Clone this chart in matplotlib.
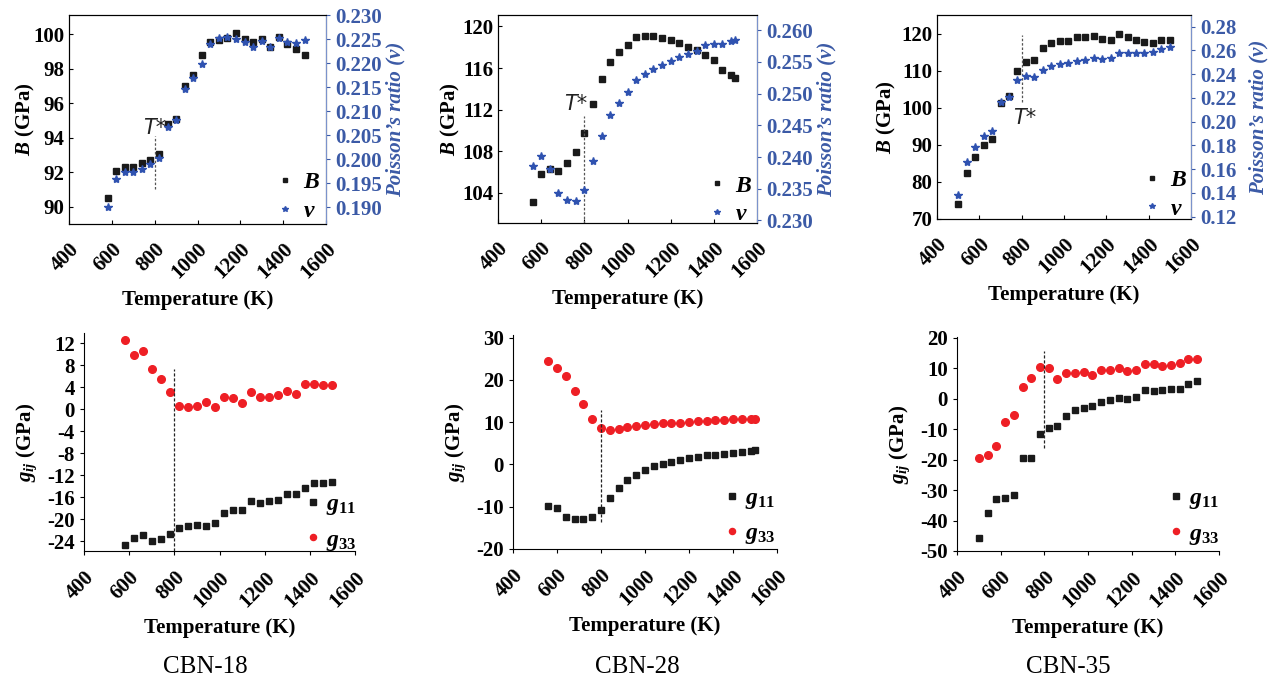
import numpy as np
import matplotlib
matplotlib.use('Agg')
import matplotlib.pyplot as plt

plt.rcParams['font.family'] = ['Liberation Serif', 'DejaVu Serif']
plt.rcParams['font.weight'] = 'bold'
plt.rcParams['mathtext.fontset'] = 'custom'
plt.rcParams['mathtext.it'] = 'Liberation Serif:italic:bold'
plt.rcParams['mathtext.rm'] = 'Liberation Serif'
plt.rcParams['mathtext.bf'] = 'Liberation Serif:bold'

# temperatures (K)
T_18 = [580, 620, 660, 700, 740, 780, 820, 860, 900, 940, 980, 1020,
        1060, 1100, 1140, 1180, 1220, 1260, 1300, 1340, 1380, 1420, 1460, 1500]
T_28 = [560, 600, 640, 680, 720, 760, 800, 840, 880, 920, 960, 1000, 1040,
        1080, 1120, 1160, 1200, 1240, 1280, 1320, 1360, 1400, 1440, 1480, 1500]
T_35 = [500, 540, 580, 620, 660, 700, 740, 780, 820, 860, 900, 940, 980,
        1020, 1060, 1100, 1140, 1180, 1220, 1260, 1300, 1340, 1380, 1420, 1460, 1500]

# bulk modulus B (GPa)
B_18 = [90.5, 92.05, 92.3, 92.3, 92.55, 92.7, 93.05, 94.8, 95.1, 97.0, 97.6, 98.8,
        99.55, 99.65, 99.75, 100.05, 99.7, 99.55, 99.7, 99.25, 99.8, 99.4, 99.15, 98.8]
B_28 = [103.15, 105.85, 106.25, 106.1, 106.9, 107.9, 109.75, 112.55, 114.9, 116.6,
        117.5, 118.25, 118.95, 119.05, 119.1, 118.9, 118.65, 118.45, 118.0, 117.7,
        117.3, 116.75, 115.85, 115.3, 115.05]
B_35 = [74.1, 82.4, 86.6, 89.9, 91.6, 101.3, 103.1, 110.0, 112.4, 112.8, 116.0, 117.4,
        117.9, 117.9, 119.0, 119.2, 119.4, 118.5, 118.3, 120.0, 119.0, 118.3, 117.8,
        117.5, 118.3, 118.3]

# Poisson's ratio
nu_18 = [0.1900, 0.1958, 0.1973, 0.1973, 0.1980, 0.1989, 0.2002, 0.2067, 0.2082,
         0.2147, 0.2169, 0.2198, 0.2240, 0.2253, 0.2255, 0.2250, 0.2244, 0.2233,
         0.2245, 0.2233, 0.2253, 0.2243, 0.2242, 0.2247]
nu_28 = [0.2386, 0.2402, 0.2381, 0.2343, 0.2333, 0.2330, 0.2348, 0.2393, 0.2433,
         0.2466, 0.2485, 0.2502, 0.2521, 0.2531, 0.2539, 0.2545, 0.2551, 0.2558,
         0.2563, 0.2568, 0.2576, 0.2578, 0.2578, 0.2583, 0.2585]
nu_35 = [0.1385, 0.1664, 0.1790, 0.1883, 0.1924, 0.2162, 0.2207, 0.2347, 0.2383,
         0.2380, 0.2436, 0.2470, 0.2484, 0.2490, 0.2509, 0.2523, 0.2534, 0.2529,
         0.2537, 0.2582, 0.2579, 0.2579, 0.2582, 0.2590, 0.2615, 0.2632]

# g11 and g33 (GPa)
g11_18 = [-24.65, -23.4, -22.85, -23.95, -23.7, -22.65, -21.55, -21.25, -21.0, -21.25,
          -20.65, -18.85, -18.25, -18.25, -16.75, -17.0, -16.7, -16.55, -15.4, -15.45,
          -14.4, -13.45, -13.45, -13.15]
g33_18 = [12.55, 9.95, 10.6, 7.4, 5.45, 3.1, 0.65, 0.4, 0.65, 1.4, 0.4, 2.3, 2.05,
          1.1, 3.1, 2.2, 2.2, 2.6, 3.35, 2.85, 4.55, 4.55, 4.35, 4.5]
g11_28 = [-9.75, -10.3, -12.45, -12.9, -12.9, -12.35, -10.8, -7.95, -5.6, -3.8, -2.5,
          -1.4, -0.45, 0.1, 0.65, 1.0, 1.5, 1.8, 2.15, 2.3, 2.5, 2.75, 2.85, 3.2, 3.3]
g33_28 = [24.5, 22.9, 20.8, 17.25, 14.25, 10.85, 8.65, 8.1, 8.45, 8.9, 9.15, 9.35,
          9.6, 9.7, 9.85, 9.9, 10.1, 10.25, 10.3, 10.45, 10.6, 10.65, 10.7, 10.8, 10.8]
g11_35 = [-45.8, -37.5, -32.9, -32.5, -31.6, -19.5, -19.5, -11.65, -9.45, -8.8, -5.5,
          -3.65, -2.9, -2.45, -1.15, -0.35, 0.4, 0.05, 0.6, 3.0, 2.6, 3.0, 3.15, 3.35,
          5.0, 5.85]
g33_35 = [-19.3, -18.55, -15.6, -7.6, -5.4, 3.8, 6.95, 10.35, 10.15, 6.55, 8.5, 8.4,
          8.85, 7.95, 9.6, 9.4, 10.05, 9.05, 9.5, 11.55, 11.55, 10.7, 11.25, 11.8, 13.0,
          13.2]

samples = ['CBN-18', 'CBN-28', 'CBN-35']
x_ticks = [400, 600, 800, 1000, 1200, 1400, 1600]

BLUE = '#2f52b0'
BLUE_TXT = '#3b5aa6'
RED = '#ee1f25'
BLACK = '#1a1a1a'
TICK_FS = 15

W, H = 1272, 683
fig = plt.figure(figsize=(W / 100, H / 100), dpi=100)


def px_axes(x0, y0, x1, y1):
    return fig.add_axes([x0 / W, 1 - y1 / H, (x1 - x0) / W, (y1 - y0) / H])


def style_x(ax, direction, pad):
    ax.set_xlim(400, 1600)
    ax.set_xticks(x_ticks)
    ax.set_xticklabels([str(t) for t in x_ticks], rotation=45, ha='right',
                       rotation_mode='anchor', fontsize=TICK_FS, fontweight='bold')
    ax.tick_params(axis='x', direction=direction, length=3, width=0.8, pad=pad)
    ax.set_xlabel('Temperature (K)', fontsize=15, fontweight='bold', labelpad=5)


# ---- top row: B and Poisson's ratio ----
top_boxes = [(69, 15, 326, 224), (498, 15, 757, 223), (937, 15, 1191, 219)]
top_B = [(T_18, B_18), (T_28, B_28), (T_35, B_35)]
top_nu = [nu_18, nu_28, nu_35]
B_lims = [(89, 101.1), (101.1, 121.1), (70, 125)]
B_ticks = [[90, 92, 94, 96, 98, 100], [104, 108, 112, 116, 120],
           [70, 80, 90, 100, 110, 120]]
nu_lims = [(0.1865, 0.2300), (0.2296, 0.2624), (0.118, 0.2898)]
nu_ticks = [[0.190, 0.195, 0.200, 0.205, 0.210, 0.215, 0.220, 0.225, 0.230],
            [0.230, 0.235, 0.240, 0.245, 0.250, 0.255, 0.260],
            [0.12, 0.14, 0.16, 0.18, 0.20, 0.22, 0.24, 0.26, 0.28]]
nu_fmt = ['%.3f', '%.3f', '%.2f']
# T* marker: dashed segment (B units) and label position
tstar_line = [(91.0, 94.1), (101.1, 111.4), (101.5, 119.5)]
tstar_text = [(800, 94.0, 'center', 'bottom'), (812, 111.6, 'right', 'bottom'),
              (815, 94.5, 'center', 'bottom')]
top_leg = [(0.804, 0.13), (0.808, 0.11), (0.808, 0.12)]
left_pad = [-3, 0, 2]
right_pad = [3, 3, 9]

for i in range(3):
    ax = px_axes(*top_boxes[i])
    T, B = top_B[i]
    ax.plot(T, B, ls='none', marker='s', ms=4.5, color=BLACK, label='$B$')
    ax.set_ylim(*B_lims[i])
    ax.set_yticks(B_ticks[i])
    ax.set_yticklabels([str(v) for v in B_ticks[i]], fontsize=TICK_FS,
                       fontweight='bold')
    ax.tick_params(axis='y', direction='in', length=3, width=0.8)
    ax.set_ylabel('$B$ (GPa)', fontsize=15, fontweight='bold', labelpad=left_pad[i])
    style_x(ax, 'in', 11)
    ax.plot([800, 800], tstar_line[i], ls=(0, (2, 1.5)), color='#555555', lw=0.9)
    tx, ty, ha, va = tstar_text[i]
    ax.text(tx, ty, 'T*', fontsize=15, fontweight='normal', style='italic',
            family='DejaVu Sans', color='#222222', ha=ha, va=va)
    for sp in ax.spines.values():
        sp.set_linewidth(0.8)

    ax2 = ax.twinx()
    ax2.plot(T, top_nu[i], ls='none', marker='*', ms=6, color=BLUE, label=r'$\nu$')
    ax2.set_ylim(*nu_lims[i])
    ax2.set_yticks(nu_ticks[i])
    ax2.set_yticklabels([nu_fmt[i] % v for v in nu_ticks[i]], fontsize=TICK_FS,
                        fontweight='bold', color=BLUE_TXT)
    ax2.tick_params(axis='y', direction='out', length=3, width=0.8, colors=BLUE_TXT)
    ax2.spines['right'].set_color('#7b93cc')
    ax2.set_ylabel('Poisson\u2019s ratio (\u03bd)', fontsize=15, fontweight='bold',
                   style='italic', color=BLUE_TXT, labelpad=right_pad[i])

    h1, l1 = ax.get_legend_handles_labels()
    h2, l2 = ax2.get_legend_handles_labels()
    ax2.legend(h1 + h2, l1 + l2, loc='center left', bbox_to_anchor=top_leg[i],
               frameon=False, fontsize=17, markerscale=0.7, handletextpad=0.36,
               labelspacing=0.3, handlelength=0.8, borderpad=0, borderaxespad=0)

# ---- bottom row: g11 and g33 ----
bot_boxes = [(84, 333, 355, 551), (513, 335, 777, 549), (957, 337, 1219, 551)]
bot_T = [T_18, T_28, T_35]
bot_g11 = [g11_18, g11_28, g11_35]
bot_g33 = [g33_18, g33_28, g33_35]
g_lims = [(-25.8, 13.9), (-20, 30.6), (-50, 20.3)]
g_ticks = [[12, 8, 4, 0, -4, -8, -12, -16, -20, -24], [30, 20, 10, 0, -10, -20],
           [20, 10, 0, -10, -20, -30, -40, -50]]
g_dash = [(-25.8, 7.3), (-13.5, 12.9), (-16.0, 15.6)]
bot_leg = [(0.81, 0.128), (0.795, 0.15), (0.798, 0.158)]
title_x = [205, 637, 1068]

for i in range(3):
    ax = px_axes(*bot_boxes[i])
    ax.plot(bot_T[i], bot_g11[i], ls='none', marker='s', ms=5, color=BLACK,
            label='$g_{11}$')
    ax.plot(bot_T[i], bot_g33[i], ls='none', marker='o', ms=5.5, color=RED,
            label='$g_{33}$')
    ax.plot([800, 800], g_dash[i], ls=(0, (2.5, 1.5)), color='#222222', lw=0.9)
    ax.set_ylim(*g_lims[i])
    ax.set_yticks(g_ticks[i])
    ax.set_yticklabels([str(v) for v in g_ticks[i]], fontsize=TICK_FS,
                       fontweight='bold')
    ax.tick_params(axis='y', direction='out', length=3, width=0.8)
    ax.set_ylabel('$g_{ij}$ (GPa)', fontsize=15, fontweight='bold', labelpad=6)
    style_x(ax, 'out', 9)
    ax.spines['top'].set_visible(False)
    ax.spines['right'].set_visible(False)
    for sp in ax.spines.values():
        sp.set_linewidth(0.8)
    ax.legend(loc='center left', bbox_to_anchor=bot_leg[i], frameon=False,
              fontsize=17, markerscale=0.8, handletextpad=0.15, labelspacing=0.5,
              handlelength=0.8, borderpad=0, borderaxespad=0)
    fig.text(title_x[i] / W, 1 - 667 / H, samples[i], fontsize=18,
             fontweight='normal', ha='center', va='center')

fig.savefig('out.png', dpi=100)
